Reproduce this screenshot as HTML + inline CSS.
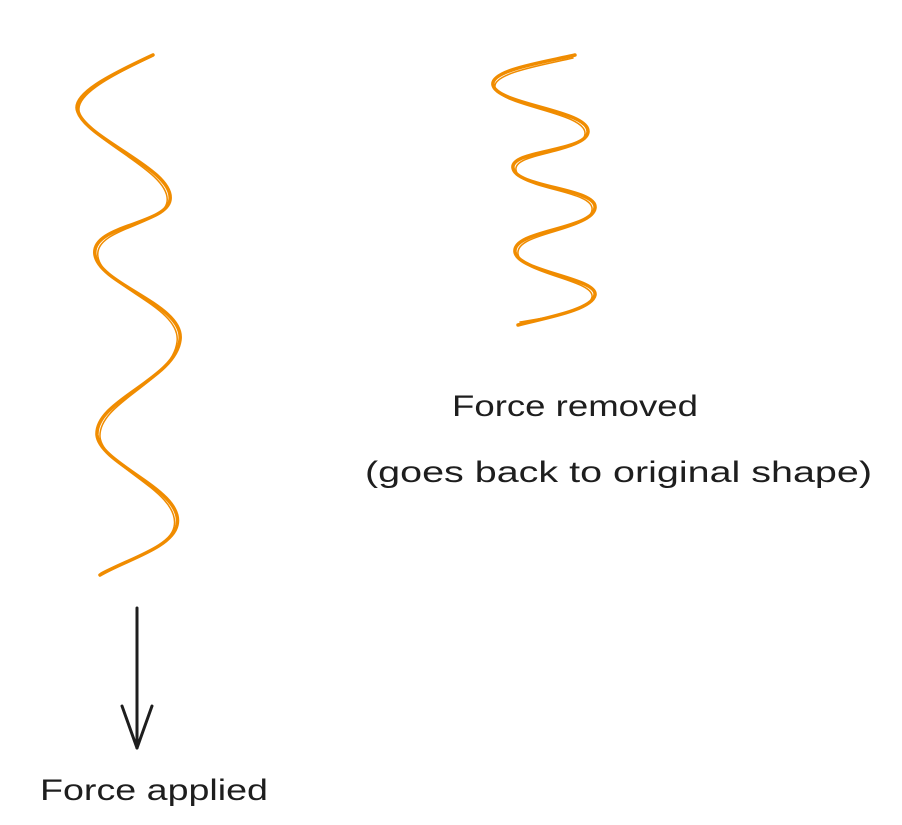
<!DOCTYPE html>
<html><head><meta charset="utf-8"><style>
html,body{margin:0;padding:0;background:#fff;}
svg{display:block}
text{font-family:"Liberation Sans",sans-serif;fill:#1e1e1e;}
</style></head><body>
<svg width="902" height="825" viewBox="0 0 902 825" xmlns="http://www.w3.org/2000/svg">
<g fill="none" stroke="#f08c00" stroke-width="3.5" stroke-linecap="round" stroke-linejoin="round">
<path d="M153,55 C110,75 70,95 78,112 C88,140 175,170 170,200 C166,225 90,225 95,255 C100,285 185,305 180,340 C175,380 95,400 97,435 C100,465 185,490 177,525 C172,548 125,560 100,575"/>
<path d="M151,57 C108,77 72,97 80,114 C90,142 172,172 167,202 C163,226 93,228 98,257 C103,287 182,307 177,342 C172,382 98,402 100,437 C103,467 182,492 174,527 C169,549 123,561 101,573" stroke-width="1.5"/>
<path d="M575,55 C545,62 490,70 493,85 C497,105 590,110 588,132 C586,152 510,150 513,168 C516,188 598,188 595,208 C592,230 512,230 515,252 C518,272 598,278 595,295 C592,310 545,318 518,325"/>
<path d="M573,58 C543,65 493,73 495,87 C499,107 587,112 585,134 C583,154 513,152 516,170 C519,190 595,190 592,210 C589,232 515,232 518,254 C521,274 595,280 592,297 C589,312 545,318 520,322" stroke-width="1.5"/>
</g>
<g fill="none" stroke="#1e1e1e" stroke-width="3" stroke-linecap="round" stroke-linejoin="round">
<path d="M137,608 L137,748"/>
<path d="M122,706 L137,748 L152,706"/>
</g>
<text x="40" y="800" font-size="30" textLength="228" lengthAdjust="spacingAndGlyphs">Force applied</text>
<text x="452" y="416" font-size="30" textLength="246" lengthAdjust="spacingAndGlyphs">Force removed</text>
<text x="365" y="482" font-size="30" textLength="507" lengthAdjust="spacingAndGlyphs">(goes back to original shape)</text>
</svg>
</body></html>
